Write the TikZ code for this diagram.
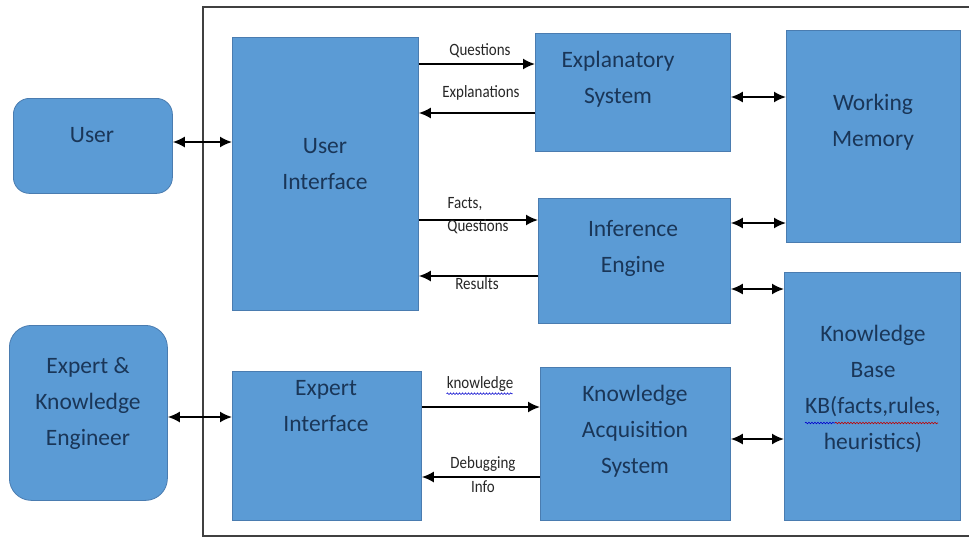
\documentclass[tikz,border=0pt]{standalone}
\usepackage{fontspec}
\setmainfont{Carlito}
\usetikzlibrary{arrows.meta,decorations.pathmorphing}
\definecolor{boxblue}{HTML}{5B9BD5}
\definecolor{boxedge}{HTML}{4A7CB0}
\definecolor{txtblue}{HTML}{1A3658}
\tikzset{
  box/.style={draw=boxedge, fill=boxblue, line width=0.8pt, anchor=north west, inner sep=0pt},
  rbox/.style={box, rounded corners=#1},
  lbl/.style={font=\fontsize{23.5}{36}\selectfont, text=txtblue, align=center, inner sep=0pt},
  small/.style={font=\fontsize{15}{17}\selectfont, text=black!85, inner sep=0pt, yscale=1.15},
  arr/.style={line width=1.8pt, -{Latex[length=12pt,width=11pt]}},
  darr/.style={line width=1.8pt, {Latex[length=12pt,width=11pt]}-{Latex[length=12pt,width=11pt]}},
  wavy/.style={line width=0.6pt, decorate, decoration={snake, amplitude=0.8pt, segment length=3pt}}
}
\begin{document}
\begin{tikzpicture}[x=1pt,y=-1pt]
\useasboundingbox (0,0) rectangle (969,542);
% frame
\draw[line width=1.4pt, draw=black!75] (975,7) -- (203,7) -- (203,536) -- (975,536);
% boxes
\node[rbox=16pt, minimum width=159pt, minimum height=95pt] (user) at (13,98) {};
\node[rbox=22pt, minimum width=158pt, minimum height=175pt] (eke) at (9,325) {};
\node[box, minimum width=186pt, minimum height=273pt] (ui) at (232,37) {};
\node[box, minimum width=195pt, minimum height=118pt] (expl) at (535,33) {};
\node[box, minimum width=192pt, minimum height=125pt] (inf) at (538,198) {};
\node[box, minimum width=190pt, minimum height=153pt] (kas) at (540,367) {};
\node[box, minimum width=189pt, minimum height=149pt] (ei) at (232,371) {};
\node[box, minimum width=174pt, minimum height=212pt] (wm) at (786,30) {};
\node[box, minimum width=176pt, minimum height=248pt] (kb) at (784,272) {};
% box texts
\node[lbl] (tuser) at (92,135) {User};
\node[lbl] (teke) at (88,403) {Expert \&\\Knowledge\\Engineer};
\node[lbl] (tui) at (325,164) {User\\Interface};
\node[lbl] (texpl) at (618,79) {Explanatory\\System};
\node[lbl] (tinf) at (633,248) {Inference\\Engine};
\node[lbl] (tkas) at (635,431) {Knowledge\\Acquisition\\System};
\node[lbl] (tei) at (326,406) {Expert\\Interface};
\node[lbl] (twm) at (873,122) {Working\\Memory};
\node[lbl] (tkb) at (873,389) {Knowledge\\Base\\KB(facts,rules,\\heuristics)};
% spell-check underlines
\draw[wavy, blue!80!black] (805,423) -- (835,423);
\draw[wavy, red!75!black] (835,423) -- (938,423);
% connectors
\draw[darr] (user.east |- 0,142) -- (ui.west |- 0,142);
\draw[darr] (eke.east |- 0,417) -- (ei.west |- 0,417);
\draw[arr] (ui.east |- 0,64) -- (expl.west |- 0,64);
\draw[arr] (expl.west |- 0,113) -- (ui.east |- 0,113);
\draw[arr] (ui.east |- 0,220) -- (inf.west |- 0,220);
\draw[arr] (inf.west |- 0,276) -- (ui.east |- 0,276);
\draw[arr] (ei.east |- 0,407) -- (kas.west |- 0,407);
\draw[arr] (kas.west |- 0,477) -- (ei.east |- 0,477);
\draw[darr] (expl.east |- 0,97) -- (wm.west |- 0,97);
\draw[darr] (inf.east |- 0,223) -- (wm.west |- 0,223);
\draw[darr] (inf.east |- 0,289) -- (kb.west |- 0,289);
\draw[darr] (kas.east |- 0,439) -- (kb.west |- 0,439);
% connector labels
\node[small] (lq) at (480,51) {Questions};
\node[small] (le) at (481,93) {Explanations};
\node[small] (lf) at (465,204) {Facts,};
\node[small] (lq2) at (478,227) {Questions};
\node[small] (lr) at (477,284) {Results};
\node[small] (lk) at (480,384) {knowledge};
\draw[wavy, blue!80!black] (lk.south west) ++(0,2) -- ++(66,0);
\node[small] (ld) at (483,464) {Debugging};
\node[small] (li) at (483,487) {Info};
\end{tikzpicture}
\end{document}
